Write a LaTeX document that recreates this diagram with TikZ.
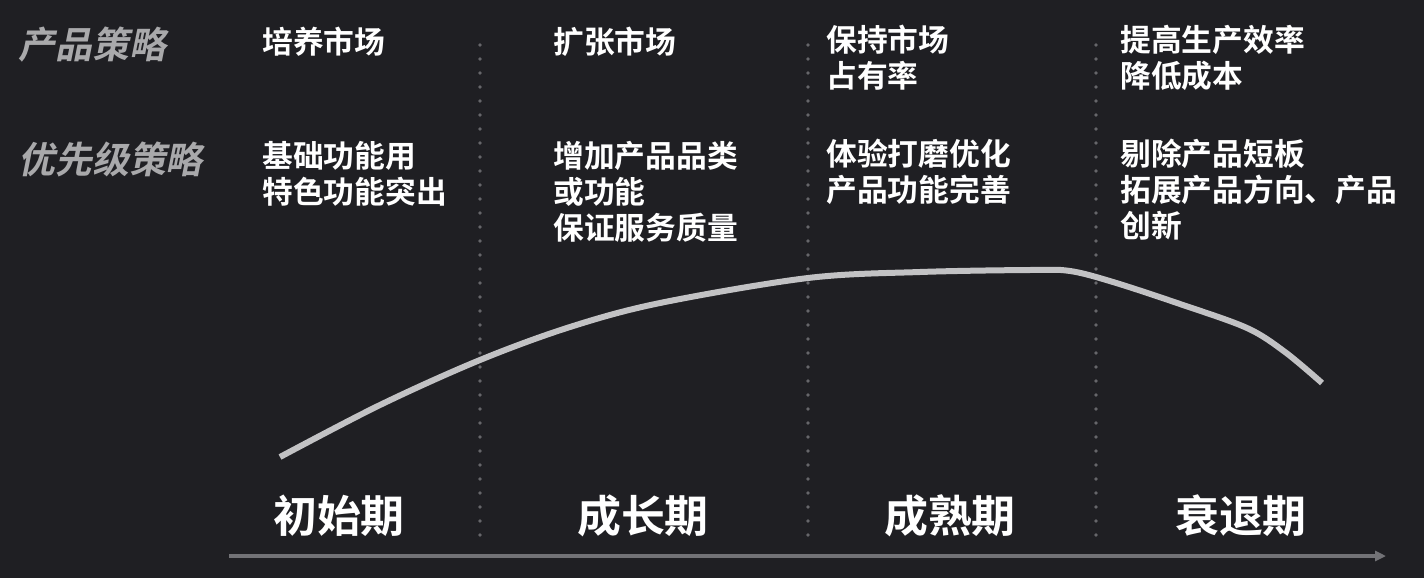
\documentclass[tikz,border=0pt]{standalone}
\usepackage{fontspec}
\setmainfont{Noto Sans CJK SC}[BoldFont={Noto Sans CJK SC Bold}]
\newfontfamily\slantcjk{Noto Sans CJK SC Bold}[FakeSlant=0.2]
\usetikzlibrary{arrows.meta}
\definecolor{Bg}{HTML}{1F1F23}
\definecolor{Curve}{HTML}{C2C2C4}
\definecolor{Axis}{HTML}{727276}
\definecolor{Label}{HTML}{A9A9AB}
\definecolor{Dots}{HTML}{66666A}

\tikzset{
  rowlabel/.style={anchor=north west, inner sep=0pt, text=Label, font=\slantcjk\fontsize{21}{24}\selectfont},
  celltext/.style={anchor=north west, inner sep=0pt, text=white, align=left, font=\bfseries\fontsize{17.5}{20.5}\selectfont},
  stagelabel/.style={inner sep=0pt, text=white, font=\bfseries\fontsize{25}{28}\selectfont},
}

\begin{document}
\begin{tikzpicture}[x=0.02cm, y=-0.02cm]
        \fill[Bg] (0,0) rectangle (1424,578);
        \useasboundingbox (0,0) rectangle (1424,578);

        % row labels
        \node[rowlabel] (prodrow) at (18,27) {产品策略};
        \node[rowlabel] (prirow) at (18,142) {优先级策略};

        % dotted separators
        \foreach \x/\n in {480/sepa,808/sepb,1096/sepc} {
          \coordinate (\n top) at (\x,45);
          \coordinate (\n bot) at (\x,548);
          \draw[Dots, line width=0.075cm, line cap=round, dash pattern=on 0pt off 0.28cm] (\n top) -- (\n bot);
        }

        % product strategy
        \node[celltext] (proda) at (262,27) {培养市场};
        \node[celltext] (prodb) at (553,27) {扩张市场};
        \node[celltext] (prodc) at (826,25) {保持市场\\占有率};
        \node[celltext] (prodd) at (1120,25) {提高生产效率\\降低成本};

        % priority strategy
        \node[celltext] (pria) at (262,141) {基础功能用\\特色功能突出};
        \node[celltext] (prib) at (553,141) {增加产品品类\\或功能\\保证服务质量};
        \node[celltext] (pric) at (826,139) {体验打磨优化\\产品功能完善};
        \node[celltext] (prid) at (1120,139) {剔除产品短板\\拓展产品方向、产品\\创新};

        % life cycle curve
        \draw[Curve, line width=0.12cm] plot[smooth, tension=0.55] coordinates {
          (280,457) (380,405) (480,360) (570,327) (660,303) (808,278)
          (920,272) (1030,270) (1070,271) (1113,282) (1180,304) (1247,328) (1285,352) (1322,383)};

        % stages
        \foreach \x/\n/\t in {339/stagea/初始期,643/stageb/成长期,950/stagec/成熟期,1241/staged/衰退期}
          \node[stagelabel] (\n) at (\x,516) {\t};

        % time axis
        \coordinate (axisstart) at (229,556);
        \coordinate (axisend) at (1386,556);
        \draw[Axis, line width=0.09cm, -{Triangle[length=0.22cm,width=0.2cm]}] (axisstart) -- (axisend);
      \end{tikzpicture}
\end{document}
